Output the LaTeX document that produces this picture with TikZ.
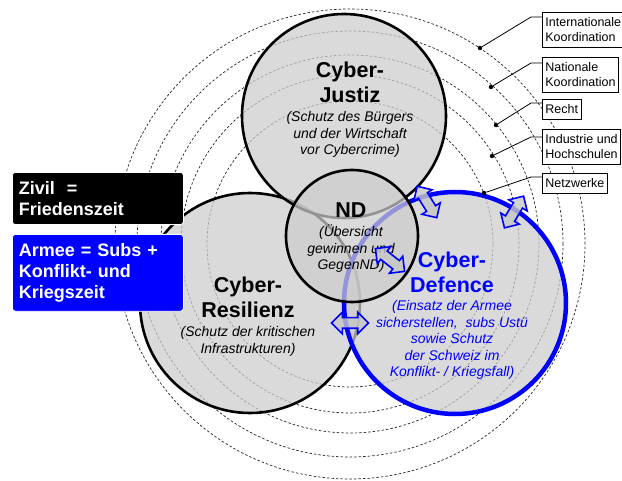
\documentclass[tikz,border=0pt]{standalone}
\usepackage{fontspec}
\setmainfont{Liberation Sans}
\usetikzlibrary{positioning,shapes.arrows}

\begin{document}
\begin{tikzpicture}
  [x=1pt, y=-1pt,
   ring/.style={draw=black!85, line width=0.7pt, dash pattern=on 2.5pt off 2pt},
   bubble/.style={circle, draw=black, line width=2.6pt, fill=black!20, fill opacity=0.72, inner sep=0pt},
   head/.style={align=center, inner sep=0pt, anchor=south, font=\fontsize{21.5}{25}\selectfont\bfseries},
   note/.style={align=center, inner sep=0pt, below=8.5pt of #1, font=\fontsize{14}{16.5}\selectfont\itshape},
   swap/.style={double arrow, draw=blue, line width=1.6pt, fill=black!22, fill opacity=0.8,
     minimum height=37pt, inner xsep=0pt, inner ysep=4.5pt, double arrow head extend=5.5pt},
   tag/.style={draw=black, line width=0.8pt, fill=white, anchor=north west, align=left,
     inner xsep=3pt, inner ysep=5.5pt, font=\fontsize{12.5}{14.5}\selectfont},
   era/.style={anchor=north west, draw=white, line width=0.8pt, rounded corners=3pt, text=white, align=left,
     text width=158pt, inner xsep=6.5pt, inner ysep=9pt, font=\fontsize{18}{21}\selectfont\bfseries},
   dot/.style={circle, fill=black, inner sep=0pt, minimum size=4.5pt},
   lead/.style={line width=0.8pt}]
  \useasboundingbox (0,0) rectangle (622,481);
  \coordinate (mid) at (350,244);
  \foreach \r in {143,169,189,213,235}
    \draw[ring] (mid) circle[radius=\r pt];

  \node[bubble, minimum size=220pt] (resilienz) at (250,303) {};
  \node[bubble, minimum size=204pt] (justiz) at (344,116) {};
  \node[bubble, draw=blue, line width=4.5pt, minimum size=222pt] (defence) at (455,303) {};
  \node[bubble, minimum size=132pt] (nd) at (352,236) {};

  \node[head] (justizh) at (350,102.7) {Cyber-\\Justiz};
  \node[note=justizh] {(Schutz des Bürgers\\und der Wirtschaft\\vor Cybercrime)};
  \node[head] (resilienzh) at (248,318) {Cyber-\\Resilienz};
  \node[note=resilienzh] {(Schutz der kritischen\\Infrastrukturen)};
  \node[head, text=blue] (defenceh) at (452,293.3) {Cyber-\\Defence};
  \node[note=defenceh, text=blue, below=7pt of defenceh] {(Einsatz der Armee\\sicherstellen,~ subs Ustü\\sowie Schutz\\der Schweiz im\\Konflikt- / Kriegsfall)};
  \node[head] (ndh) at (351,217.7) {ND};
  \node[note=ndh, below=7pt of ndh] {(Übersicht\\gewinnen und\\GegenND)};

  \node[swap, rotate=-58] (a1) at (427,202) {};
  \node[swap, rotate=59] (a2) at (514,212) {};
  \node[swap, rotate=-38] (a3) at (390,260) {};
  \node[swap] (a4) at (350,323) {};

  \node[tag] (int) at (542,12) {Internationale\\Koordination};
  \node[tag] (nat) at (542,57) {Nationale\\Koordination};
  \node[tag] (recht) at (542,99) {Recht};
  \node[tag] (ind) at (542,129) {Industrie und\\Hochschulen};
  \node[tag] (net) at (542,173) {Netzwerke};

  \node[dot] (intd) at (480,48) {};
  \node[dot] (natd) at (491,87) {};
  \node[dot] (rechtd) at (496,125) {};
  \node[dot] (indd) at (492,156) {};
  \node[dot] (netd) at (484,193) {};
  \coordinate (intk) at (531,17);
  \coordinate (natk) at (531,63);
  \coordinate (rechtk) at (531,103);
  \coordinate (indk) at (531,137);
  \coordinate (netk) at (531,177);
  \foreach \n in {int,nat,recht,ind,net}
    \draw[lead] (\n d) -- (\n k) -- (\n.west |- \n k);

  \node[era, fill=black] (zivil) at (12,172) {Zivil~ =\\Friedenszeit};
  \node[era, fill=blue] (armee) at (12,234) {Armee = Subs +\\Konflikt- und\\Kriegszeit};
\end{tikzpicture}
\end{document}
